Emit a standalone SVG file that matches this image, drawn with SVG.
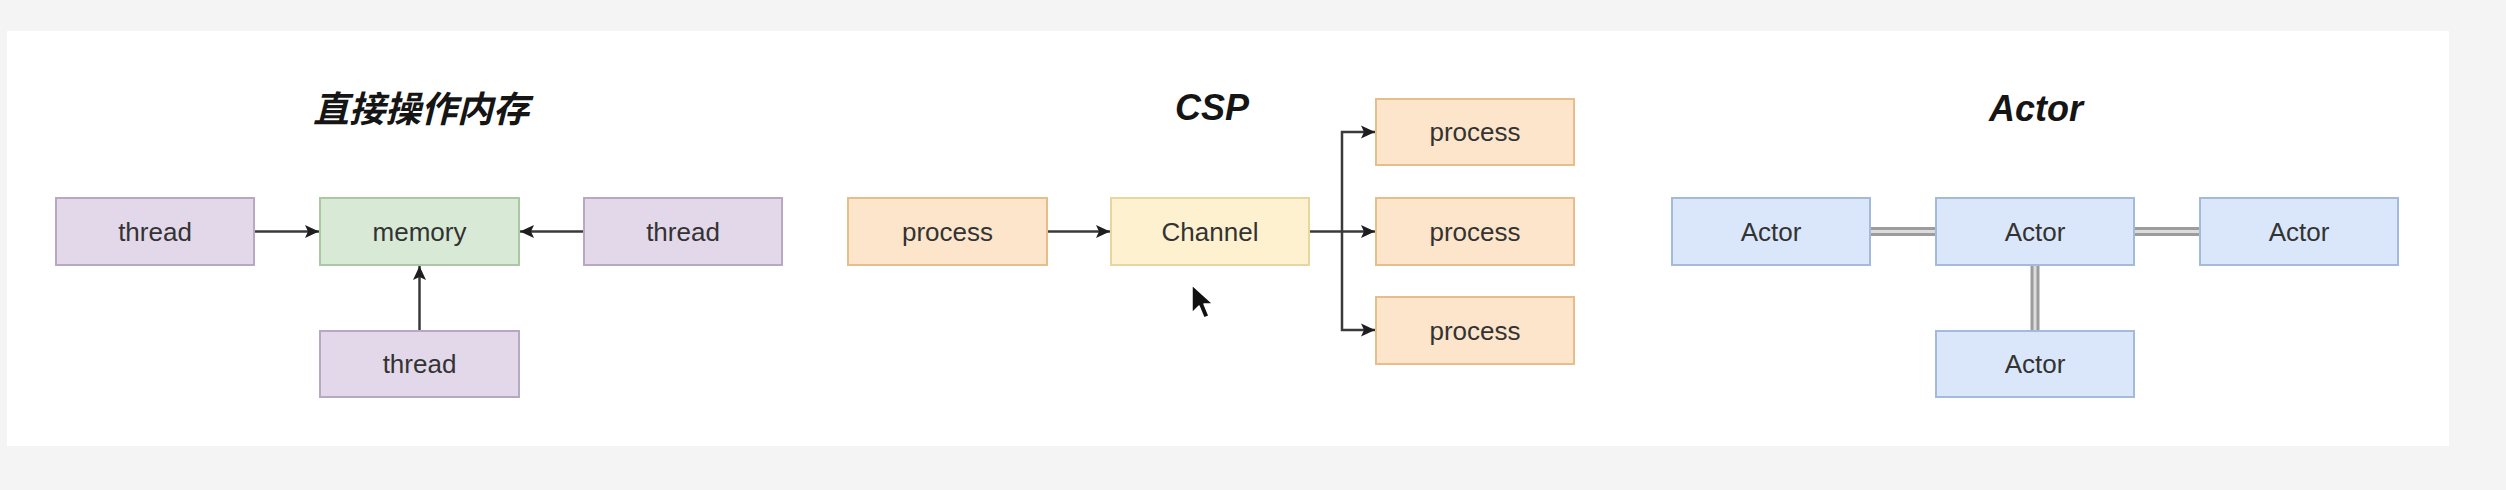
<svg xmlns="http://www.w3.org/2000/svg" width="2506" height="490" viewBox="0 0 2506 490">
<style>
.box{stroke-width:2}
.purple{fill:#e3d8ea;stroke:#b9a8c4}
.green{fill:#d8ead6;stroke:#a9c9a2}
.orange{fill:#fde5cb;stroke:#e6be8a}
.yellow{fill:#fdf1cf;stroke:#e8d5a0}
.blue{fill:#dae7fa;stroke:#a4badb}
.lbl{font-family:"Liberation Sans",Arial,sans-serif;font-size:26px;fill:#333;text-anchor:middle}
.title{font-family:"Liberation Sans",Arial,"Noto Sans CJK SC",sans-serif;font-size:36px;font-weight:bold;font-style:italic;fill:#151515;text-anchor:middle}
.arrow{stroke:#3a3a3a;stroke-width:2.5;fill:none}
.link-out{stroke:#9c9c9c;stroke-width:9;fill:none}
.link-in{stroke:#dcdcdc;stroke-width:3;fill:none}
</style>
<defs>
<marker id="ah" markerUnits="userSpaceOnUse" markerWidth="16" markerHeight="14" refX="14" refY="7" orient="auto">
<path d="M0,0.5 L14,7 L0,13.5 L3,7 z" fill="#1e1e1e"/>
</marker>
</defs>
<rect x="0" y="0" width="2506" height="490" fill="#f4f4f4"/>
<rect x="7" y="31" width="2442" height="415" fill="#ffffff"/>

<text class="title" x="421" y="122" style="font-family:'Noto Sans CJK SC','Liberation Sans',sans-serif">直接操作内存</text>
<text class="title" x="1212" y="120">CSP</text>
<text class="title" x="2036" y="121">Actor</text>

<g id="connectors">
<line class="arrow" x1="255" y1="231.5" x2="319" y2="231.5" marker-end="url(#ah)"/>
<line class="arrow" x1="583" y1="231.5" x2="520" y2="231.5" marker-end="url(#ah)"/>
<line class="arrow" x1="419.5" y1="331" x2="419.5" y2="266" marker-end="url(#ah)"/>
<line class="arrow" x1="1048" y1="231.5" x2="1110" y2="231.5" marker-end="url(#ah)"/>
<path class="arrow" d="M1310,231.5 H1375" marker-end="url(#ah)"/>
<path class="arrow" d="M1342,231.5 V132 H1375" marker-end="url(#ah)"/>
<path class="arrow" d="M1342,231.5 V330 H1375" marker-end="url(#ah)"/>
<line class="link-out" x1="1870" y1="231.5" x2="1936" y2="231.5"/>
<line class="link-in" x1="1870" y1="231.5" x2="1936" y2="231.5"/>
<line class="link-out" x1="2134" y1="231.5" x2="2200" y2="231.5"/>
<line class="link-in" x1="2134" y1="231.5" x2="2200" y2="231.5"/>
<line class="link-out" x1="2035" y1="265" x2="2035" y2="331"/>
<line class="link-in" x1="2035" y1="265" x2="2035" y2="331"/>
</g>

<g id="thread-left"><rect class="box purple" x="56" y="198" width="198" height="67"/><text class="lbl" x="155" y="241">thread</text></g>
<g id="memory"><rect class="box green" x="320" y="198" width="199" height="67"/><text class="lbl" x="419.5" y="241">memory</text></g>
<g id="thread-right"><rect class="box purple" x="584" y="198" width="198" height="67"/><text class="lbl" x="683" y="241">thread</text></g>
<g id="thread-bottom"><rect class="box purple" x="320" y="331" width="199" height="66"/><text class="lbl" x="419.5" y="373">thread</text></g>

<g id="process-left"><rect class="box orange" x="848" y="198" width="199" height="67"/><text class="lbl" x="947.5" y="241">process</text></g>
<g id="channel"><rect class="box yellow" x="1111" y="198" width="198" height="67"/><text class="lbl" x="1210" y="241">Channel</text></g>
<g id="process-top"><rect class="box orange" x="1376" y="99" width="198" height="66"/><text class="lbl" x="1475" y="141">process</text></g>
<g id="process-mid"><rect class="box orange" x="1376" y="198" width="198" height="67"/><text class="lbl" x="1475" y="241">process</text></g>
<g id="process-bottom"><rect class="box orange" x="1376" y="297" width="198" height="67"/><text class="lbl" x="1475" y="340">process</text></g>

<g id="actor-left"><rect class="box blue" x="1672" y="198" width="198" height="67"/><text class="lbl" x="1771" y="241">Actor</text></g>
<g id="actor-center"><rect class="box blue" x="1936" y="198" width="198" height="67"/><text class="lbl" x="2035" y="241">Actor</text></g>
<g id="actor-right"><rect class="box blue" x="2200" y="198" width="198" height="67"/><text class="lbl" x="2299" y="241">Actor</text></g>
<g id="actor-bottom"><rect class="box blue" x="1936" y="331" width="198" height="66"/><text class="lbl" x="2035" y="373">Actor</text></g>

<path d="M1192,285 L1192,313 L1199,306 L1204,318 L1209,316 L1204,304 L1213,304 Z" fill="#111" stroke="#fff" stroke-width="1.5" stroke-linejoin="round"/>
</svg>
